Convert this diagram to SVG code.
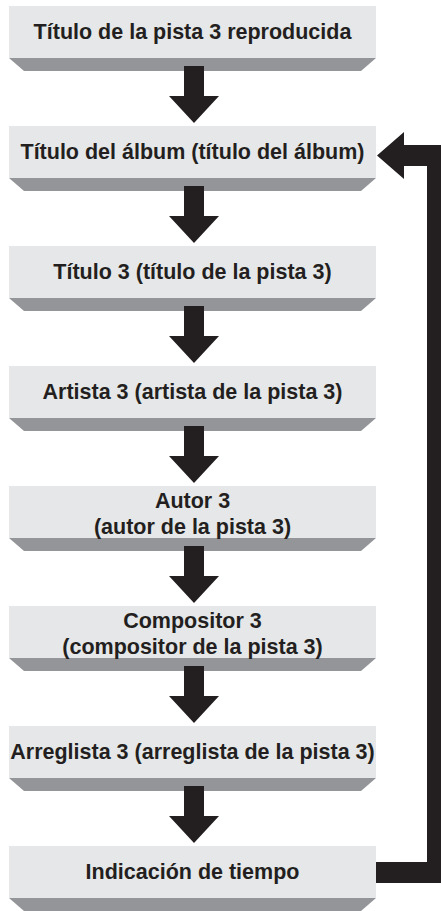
<svg xmlns="http://www.w3.org/2000/svg" width="441" height="911" viewBox="0 0 441 911">
<style>
.face{fill:#e6e7e8}
.shade{fill:#939598}
.lbl{font-family:"Liberation Sans",Arial,sans-serif;font-weight:bold;font-size:21.5px;fill:#231f20;text-anchor:middle}
.arr{fill:#231f20}
</style>
<defs>
<path id="shadow" class="shade" d="M9,0 H376 L361,13 H24 Z"/>
<path id="down" class="arr" d="M184,0 H204 V30 H219 L194,57 L169,30 H184 Z"/>
</defs>
<rect width="441" height="911" fill="#ffffff"/>
<g id="node1"><rect class="face" x="9" y="6" width="367" height="52"/><use href="#shadow" y="58"/><text class="lbl" x="192.5" y="39">Título de la pista 3 reproducida</text></g>
<g id="node2"><rect class="face" x="9" y="126" width="367" height="52"/><use href="#shadow" y="178"/><text class="lbl" x="192.5" y="159">Título del álbum (título del álbum)</text></g>
<g id="node3"><rect class="face" x="9" y="246" width="367" height="52"/><use href="#shadow" y="298"/><text class="lbl" x="192.5" y="279">Título 3 (título de la pista 3)</text></g>
<g id="node4"><rect class="face" x="9" y="366" width="367" height="52"/><use href="#shadow" y="418"/><text class="lbl" x="192.5" y="399">Artista 3 (artista de la pista 3)</text></g>
<g id="node5"><rect class="face" x="9" y="486" width="367" height="52"/><use href="#shadow" y="538"/><text class="lbl" x="192.5" y="508">Autor 3</text><text class="lbl" x="192.5" y="534">(autor de la pista 3)</text></g>
<g id="node6"><rect class="face" x="9" y="606" width="367" height="52"/><use href="#shadow" y="658"/><text class="lbl" x="192.5" y="628">Compositor 3</text><text class="lbl" x="192.5" y="654">(compositor de la pista 3)</text></g>
<g id="node7"><rect class="face" x="9" y="726" width="367" height="52"/><use href="#shadow" y="778"/><text class="lbl" x="192.5" y="759">Arreglista 3 (arreglista de la pista 3)</text></g>
<g id="node8"><rect class="face" x="9" y="846" width="367" height="52"/><use href="#shadow" y="898"/><text class="lbl" x="192.5" y="879">Indicación de tiempo</text></g>
<g id="connectors">
<use href="#down" y="66"/>
<use href="#down" y="186"/>
<use href="#down" y="306"/>
<use href="#down" y="426"/>
<use href="#down" y="546"/>
<use href="#down" y="666"/>
<use href="#down" y="786"/>
<path class="arr" d="M376,862 H427 V166 H404 V179 L377,155.5 L404,132 V145 H441 V883 H376 Z"/>
</g>
</svg>
